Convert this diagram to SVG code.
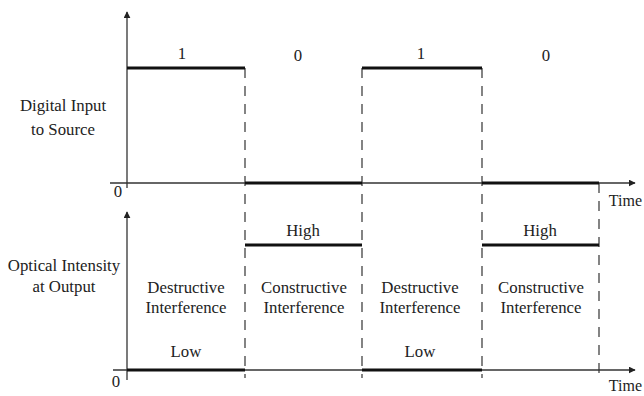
<svg xmlns="http://www.w3.org/2000/svg" width="644" height="396" viewBox="0 0 644 396">
<defs>
<marker id="arr" viewBox="0 0 10 10" refX="9" refY="5" markerWidth="7" markerHeight="7" orient="auto" markerUnits="userSpaceOnUse">
<path d="M0,0 L10,5 L0,10 Z" fill="#222"/>
</marker>
<style>
.axis{stroke:#333;stroke-width:1.3;fill:none}
.sig{stroke:#111;stroke-width:3;fill:none}
.dash{stroke:#333;stroke-width:1.2;stroke-dasharray:10 8;fill:none}
text{font-family:"Liberation Serif","Times New Roman",serif;font-size:16.8px;fill:#222;text-anchor:middle}
.time{text-anchor:end;font-size:16px}
</style>
</defs>
<rect width="644" height="396" fill="#fff"/>
<g id="connectors">
<line class="axis" x1="127" y1="188" x2="127" y2="12" marker-end="url(#arr)"/>
<line class="axis" x1="110" y1="183" x2="635" y2="183" marker-end="url(#arr)"/>
<line class="axis" x1="127" y1="380" x2="127" y2="212" marker-end="url(#arr)"/>
<line class="axis" x1="113" y1="370" x2="635" y2="370" marker-end="url(#arr)"/>
<line class="dash" x1="245" y1="68" x2="245" y2="378"/>
<line class="dash" x1="362" y1="68" x2="362" y2="378"/>
<line class="dash" x1="482" y1="68" x2="482" y2="378"/>
<line class="dash" x1="599" y1="183" x2="599" y2="378"/>
</g>
<g id="input-signal">
<polyline class="sig" points="127,68 245,68"/>
<polyline class="sig" points="245,183 362,183"/>
<polyline class="sig" points="362,68 482,68"/>
<polyline class="sig" points="482,183 599,183"/>
<text x="182" y="59">1</text>
<text x="298" y="61">0</text>
<text x="421" y="59">1</text>
<text x="546" y="61">0</text>
</g>
<g id="output-signal">
<polyline class="sig" points="127,370 245,370"/>
<polyline class="sig" points="245,245 362,245"/>
<polyline class="sig" points="362,370 482,370"/>
<polyline class="sig" points="482,245 599,245"/>
<text x="303" y="236">High</text>
<text x="540" y="236">High</text>
<text x="186" y="357">Low</text>
<text x="420" y="357">Low</text>
</g>
<g id="region1"><text x="186" y="293">Destructive</text><text x="186" y="313">Interference</text></g>
<g id="region2"><text x="304" y="293">Constructive</text><text x="304" y="313">Interference</text></g>
<g id="region3"><text x="420" y="293">Destructive</text><text x="420" y="313">Interference</text></g>
<g id="region4"><text x="541" y="293">Constructive</text><text x="541" y="313">Interference</text></g>
<g id="labels">
<text x="63" y="111">Digital Input</text>
<text x="63" y="135">to Source</text>
<text x="64" y="271">Optical Intensity</text>
<text x="64" y="292">at Output</text>
<text x="118" y="197">0</text>
<text x="116" y="387">0</text>
<text class="time" x="642" y="206">Time</text>
<text class="time" x="642" y="391">Time</text>
</g>
</svg>
